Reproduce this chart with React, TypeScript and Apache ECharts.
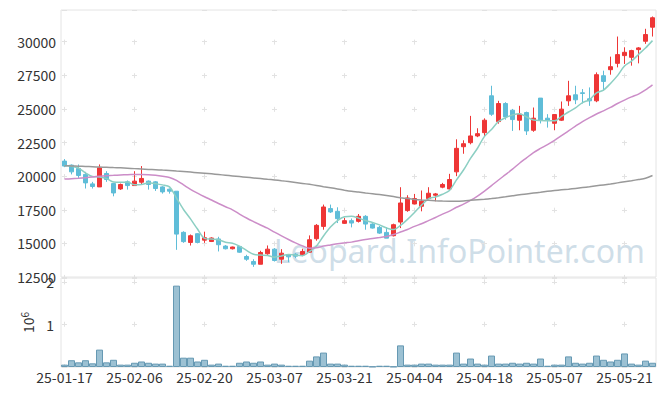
import React, { useEffect, useRef } from "react";
import * as echarts from "echarts";

const dates = [
  "25-01-17","25-01-20","25-01-21","25-01-22","25-01-23","25-01-24","25-01-31","25-02-03","25-02-04","25-02-05",
  "25-02-06","25-02-07","25-02-10","25-02-11","25-02-12","25-02-13","25-02-14","25-02-17","25-02-18","25-02-19",
  "25-02-20","25-02-21","25-02-24","25-02-25","25-02-26","25-02-27","25-02-28","25-03-04","25-03-05","25-03-06",
  "25-03-07","25-03-10","25-03-11","25-03-12","25-03-13","25-03-14","25-03-17","25-03-18","25-03-19","25-03-20",
  "25-03-21","25-03-24","25-03-25","25-03-26","25-03-27","25-03-28","25-03-31","25-04-01","25-04-02","25-04-03",
  "25-04-04","25-04-07","25-04-08","25-04-09","25-04-10","25-04-11","25-04-14","25-04-15","25-04-16","25-04-17",
  "25-04-18","25-04-21","25-04-22","25-04-23","25-04-24","25-04-25","25-04-28","25-04-29","25-04-30","25-05-02",
  "25-05-07","25-05-08","25-05-09","25-05-12","25-05-13","25-05-14","25-05-15","25-05-16","25-05-19","25-05-20",
  "25-05-21","25-05-22","25-05-23","25-05-26","25-05-27",
];

const opens = [
  21120,20820,20575,20130,19425,19200,20200,19450,19050,19575,
  19300,19550,19630,19575,19200,19030,18880,15820,15070,15720,
  15240,15140,15330,14800,14600,14771,14024,13650,13449,14226,
  14570,13822,14150,14196,14151,14345,15346,16265,17588,17385,
  16490,16690,16638,17012,16437,16190,15817,15570,16586,17438,
  17931,17759,18334,18580,19180,19050,20321,22190,22490,22990,
  23234,25976,24058,25401,24905,24158,24731,23413,25805,24310,
  23930,24160,25603,26051,26200,25752,25603,27470,27918,28389,
  28964,28837,29412,30032,31078,
];
const closes = [
  20750,20320,20050,19500,19230,20620,19750,18750,19380,19300,
  19630,19830,19380,19080,18830,18880,15690,15130,15570,15070,
  15420,15400,14900,14600,14730,14345,13822,13449,14323,14570,
  13725,14271,14000,14046,14398,15271,16340,17707,17339,16840,
  16690,16512,17012,16437,16139,15765,15391,16390,18005,18379,
  18334,18132,18730,18680,19380,19750,22069,22413,22990,23160,
  24160,24606,25401,24407,24208,24609,23362,24310,24160,24160,
  24582,24982,25976,25677,26150,25603,27545,27044,28142,29039,
  29211,29338,29537,30532,31780,
];
const lows = [
  20670,20130,19870,19080,19080,19200,19575,18500,18980,19000,
  19300,19380,19000,18900,18700,18700,14520,15040,14840,15000,
  15040,15100,14400,14550,14550,14300,13703,13255,13449,14150,
  13650,13479,13600,13900,14050,14300,15200,16018,17264,16512,
  16450,16190,16550,16018,16100,15700,15391,15518,16138,17350,
  17900,17385,18300,18132,19100,19000,20000,21666,22368,22900,
  22988,24482,23900,24200,23362,23413,23063,23300,23920,23611,
  23413,24100,25229,25355,25400,25229,25500,26350,27545,28090,
  28344,28217,28389,29838,30383,
];
const highs = [
  21270,20870,20870,20320,19575,20870,20370,19500,19450,19680,
  20370,20750,19680,19630,19250,19080,18880,15900,15660,15750,
  15870,15450,15490,14870,14760,14800,14151,13822,14450,14846,
  14650,14570,14200,14270,14600,15593,16437,17886,17886,17684,
  16900,16850,17184,17100,16500,16300,16213,16467,19178,18581,
  18678,18932,19178,18750,19500,20172,22741,22667,24482,23563,
  24300,26723,25603,25500,25000,25229,24800,25105,25805,24609,
  24600,25551,27090,26723,26476,26600,27716,27844,28889,30383,
  29584,29400,29600,30958,31877,
];
// trading volume, in millions of shares
const volumes = [
  0.056,0.16,0.11,0.16,0.087,0.41,0.11,0.17,0.056,0.056,
  0.10,0.13,0.10,0.08,0.08,0.03,1.92,0.22,0.22,0.13,
  0.17,0.056,0.08,0.03,0.03,0.10,0.13,0.10,0.13,0.056,
  0.08,0.056,0.03,0.03,0.03,0.15,0.25,0.34,0.08,0.08,
  0.056,0.03,0.03,0.03,0.01,0.03,0.03,0.01,0.51,0.056,
  0.056,0.08,0.08,0.056,0.056,0.056,0.34,0.08,0.20,0.08,
  0.056,0.27,0.08,0.08,0.10,0.08,0.10,0.08,0.20,0.03,
  0.056,0.056,0.25,0.10,0.08,0.10,0.27,0.17,0.13,0.17,
  0.32,0.08,0.056,0.15,0.10,
];
// moving-average values read from the chart where earlier closes are not shown
const ma5Lead = [20800, 20740, 20600, 20250];
const ma20Lead = [
  19780,19800,19840,19890,19940,19990,20030,20060,20090,20110,
  20120,20130,20110,20060,19990,19900,19680,19350,19020,
];
const ma120 = [
  20780,20760,20740,20720,20700,20680,20660,20640,20620,20590,
  20560,20530,20500,20480,20450,20420,20380,20340,20300,20260,
  20220,20170,20120,20070,20020,19970,19920,19870,19820,19770,
  19720,19660,19600,19530,19460,19390,19310,19220,19140,19050,
  18960,18880,18820,18750,18690,18630,18560,18480,18400,18330,
  18270,18230,18200,18170,18150,18140,18140,18160,18200,18240,
  18280,18330,18390,18460,18540,18620,18680,18740,18800,18870,
  18930,18980,19030,19090,19150,19210,19280,19350,19420,19500,
  19580,19660,19750,19840,20050,
];
const yTicks = { min: 12500, max: 32357, step: 2500 };
const volTicks = { min: 0, max: 2.1, step: 1 };

function movingAverage(vals: number[], n: number, lead: number[]) {
  return vals.map((_, i) => {
    if (i < n - 1) return lead[i];
    let s = 0;
    for (let k = i - n + 1; k <= i; k++) s += vals[k];
    return Math.round(s / n);
  });
}

const FONT = "'Noto Sans CJK KR', 'Noto Sans', sans-serif";
const CROSS = "#e2e2e2";

export default function App() {
  const ref = useRef<HTMLDivElement>(null);
  useEffect(() => {
    if (!ref.current) return;
    const chart = echarts.init(ref.current, undefined, { renderer: "svg" });
    const ma5 = movingAverage(closes, 5, ma5Lead);
    const ma20 = movingAverage(closes, 20, ma20Lead);
    const candles = dates.map((_, i) => [opens[i], closes[i], lows[i], highs[i]]);

    const mainH = 267;
    const mainPx = (mainH * yTicks.step) / (yTicks.max - yTicks.min);
    const firstTickDist = (mainH * (yTicks.max - 30000)) / (yTicks.max - yTicks.min);
    const mainOffset = (((-(firstTickDist - 2.5)) % mainPx) + mainPx) % mainPx;
    const volH = 89;
    const volPx = (volH * volTicks.step) / (volTicks.max - volTicks.min);
    const volFirst = (volH * (volTicks.max - 2)) / (volTicks.max - volTicks.min);
    const volOffset = (((-(volFirst - 2.5)) % volPx) + volPx) % volPx;

    chart.setOption({
      animation: false,
      textStyle: { fontFamily: FONT },
      grid: [
        { left: 61, right: 9, top: 10, height: mainH, show: true, borderColor: "#e4e4e4", borderWidth: 1 },
        { left: 61, right: 9, top: 278, height: volH, show: true, borderColor: "#e4e4e4", borderWidth: 1 },
      ],
      graphic: [
        {
          type: "text",
          right: 20,
          top: 234,
          z: -10,
          style: {
            text: "Leopard.InfoPointer.com",
            font: "32px 'Noto Sans'",
            fill: "rgba(160,190,210,0.5)",
          },
        },
      ],
      xAxis: [
        {
          type: "category",
          gridIndex: 0,
          data: dates,
          boundaryGap: true,
          axisLine: { show: false },
          axisTick: { show: false },
          axisLabel: { show: false },
          splitLine: {
            show: true,
            interval: 9,
            alignWithLabel: true,
            lineStyle: { color: CROSS, width: 1, type: [5, mainPx - 5], dashOffset: mainOffset },
          },
        },
        {
          type: "category",
          gridIndex: 1,
          data: dates,
          boundaryGap: true,
          axisLine: { show: false },
          axisTick: { show: false },
          axisLabel: { interval: 9, color: "#333", fontSize: 14, margin: 3, fontFamily: FONT },
          splitLine: {
            show: true,
            interval: 9,
            alignWithLabel: true,
            lineStyle: { color: CROSS, width: 1, type: [5, volPx - 5], dashOffset: volOffset },
          },
        },
      ],
      yAxis: [
        {
          type: "value",
          gridIndex: 0,
          min: yTicks.min,
          max: yTicks.max,
          interval: yTicks.step,
          axisLine: { show: false },
          axisTick: { show: false },
          axisLabel: {
            showMaxLabel: false,
            color: "#333",
            fontSize: 14,
            margin: 5,
            fontFamily: FONT,
            formatter: (v: number) => String(v),
          },
          splitLine: { show: true, lineStyle: { color: CROSS, width: 1, type: [5, 65], dashOffset: -1 } },
        },
        {
          type: "value",
          gridIndex: 1,
          min: volTicks.min,
          max: volTicks.max,
          interval: volTicks.step,
          name: "{a|10}{b|6}",
          nameLocation: "middle",
          nameRotate: 90,
          nameGap: 21,
          nameTextStyle: {
            rich: {
              a: { fontSize: 14, color: "#333", lineHeight: 17, fontFamily: FONT },
              b: { fontSize: 10, color: "#333", lineHeight: 11, verticalAlign: "top", fontFamily: FONT },
            },
          },
          axisLine: { show: false },
          axisTick: { show: false },
          axisLabel: {
            showMinLabel: false,
            showMaxLabel: false,
            color: "#333",
            fontSize: 14,
            margin: 7,
            fontFamily: FONT,
            formatter: (v: number) => String(v),
          },
          splitLine: { show: true, lineStyle: { color: CROSS, width: 1, type: [5, 65], dashOffset: -1 } },
        },
      ],
      series: [
        {
          type: "candlestick",
          xAxisIndex: 0,
          yAxisIndex: 0,
          data: candles,
          barWidth: 5,
          itemStyle: {
            color: "#ee3636",
            color0: "#5fbdd8",
            borderColor: "#ee3636",
            borderColor0: "#5fbdd8",
            borderWidth: 1,
          },
        },
        {
          type: "line",
          name: "MA5",
          xAxisIndex: 0,
          yAxisIndex: 0,
          data: ma5,
          showSymbol: false,
          smooth: 0.3,
          lineStyle: { color: "#8ccfc3", width: 1.5 },
        },
        {
          type: "line",
          name: "MA20",
          xAxisIndex: 0,
          yAxisIndex: 0,
          data: ma20,
          showSymbol: false,
          smooth: 0.3,
          lineStyle: { color: "#cc8dc8", width: 1.5 },
        },
        {
          type: "line",
          name: "MA120",
          xAxisIndex: 0,
          yAxisIndex: 0,
          data: ma120,
          showSymbol: false,
          smooth: 0.3,
          lineStyle: { color: "#999999", width: 1.5 },
        },
        {
          type: "bar",
          xAxisIndex: 1,
          yAxisIndex: 1,
          data: volumes,
          barCategoryGap: "0%",
          itemStyle: { color: "#9cc1d3", borderColor: "#6699b3", borderWidth: 1 },
        },
      ],
    });
    return () => chart.dispose();
  }, []);
  return <div ref={ref} style={{ width: 665, height: 396, margin: -8 }} />;
}
